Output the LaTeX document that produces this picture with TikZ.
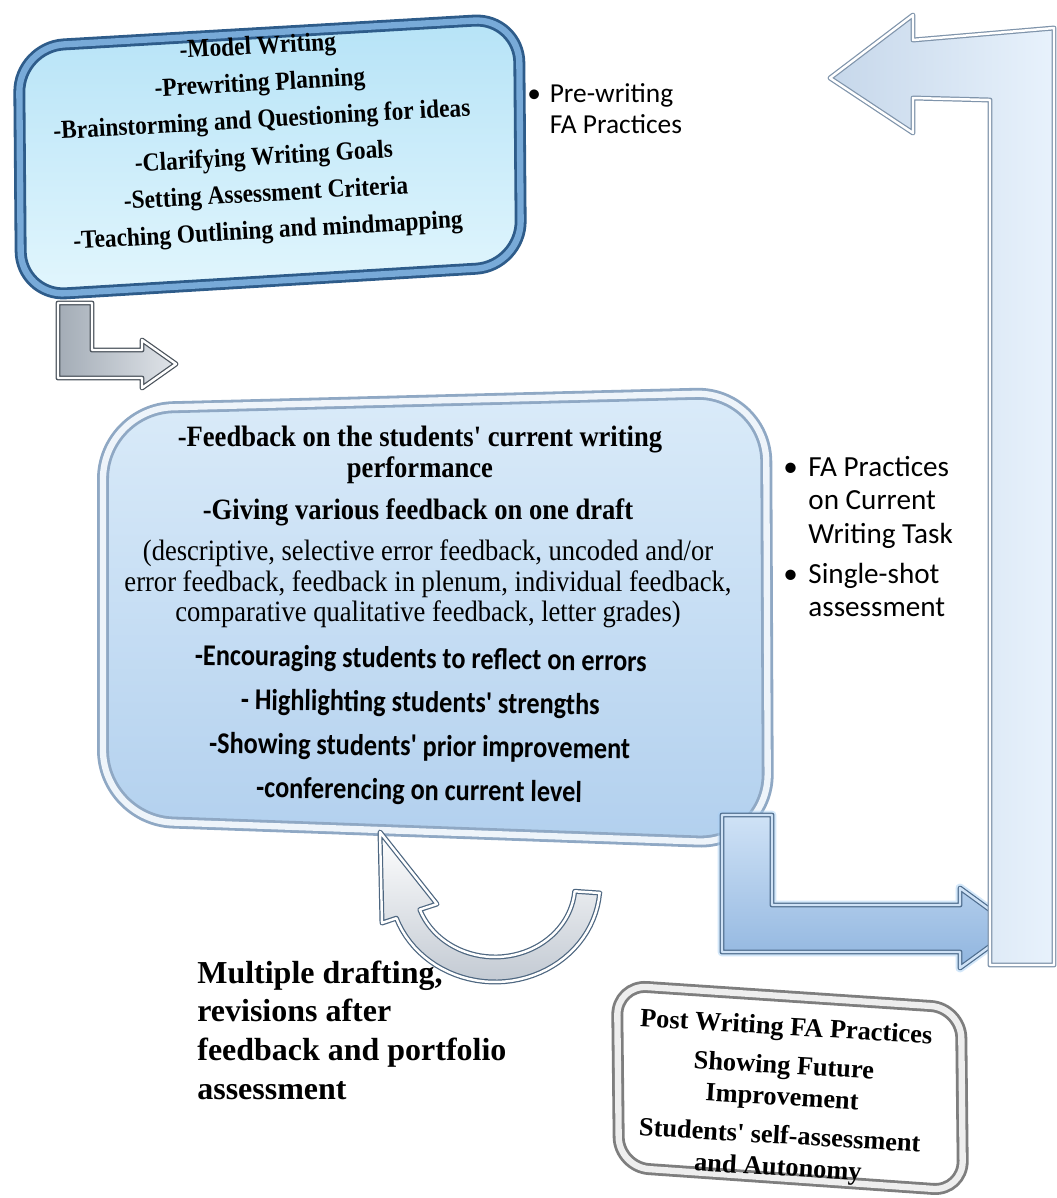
\documentclass[tikz,border=0pt]{standalone}
\usepackage{xcolor}
\usepackage{fontspec}
\newfontfamily\plainserif{Liberation Serif}
\newfontfamily\boxserif[FakeStretch=0.9]{Liberation Serif}
\newfontfamily\boxsans[FakeStretch=0.87]{Carlito}
\newfontfamily\notesans{Carlito}
\usepackage{tikz}

\definecolor{topframe}{HTML}{2E5C8A}
\definecolor{topbevel}{HTML}{78AAD8}
\definecolor{topfillA}{HTML}{B6E3F7}
\definecolor{topfillB}{HTML}{E2F6FD}
\definecolor{midframe}{HTML}{8FA8C4}
\definecolor{midbevel}{HTML}{EEF4FA}
\definecolor{midfillA}{HTML}{DAEBF9}
\definecolor{midfillB}{HTML}{B2D0EE}
\definecolor{postframe}{HTML}{7E7E7E}
\definecolor{postbevel}{HTML}{EEEEEE}
\definecolor{steelA}{HTML}{E0E4E9}
\definecolor{steelB}{HTML}{A3ACB6}
\definecolor{steeledge}{HTML}{4B535C}
\definecolor{blueA}{HTML}{CFE2F6}
\definecolor{blueB}{HTML}{90B5DF}
\definecolor{blueedge}{HTML}{4F6E8F}
\definecolor{glowblue}{HTML}{A9D0F5}
\definecolor{paleA}{HTML}{C6D7EA}
\definecolor{paleB}{HTML}{E8F2FC}
\definecolor{paleedge}{HTML}{7F94AB}
\definecolor{curveB}{HTML}{C3CAD3}
\definecolor{curveedge}{HTML}{4D6680}

\begin{document}
\begin{tikzpicture}[x=0.02cm, y=-0.02cm,
	boxframe/.style={line width=1.6pt, double distance=3.6pt, line join=round},
	blockarrow/.style={line width=0.7pt, double distance=1.4pt, line join=round},
	notetext/.style={anchor=west, inner sep=0pt}]
				\useasboundingbox (0,0) rectangle (1057,1198);
				\fill[white] (0,0) rectangle (1057,1198);

				\shadedraw[blockarrow, left color=steelB, right color=steelA, draw=steeledge, double=white] (58,303) -- (92,303) -- (92,350) -- (142,350) -- (142,340) -- (176,364) -- (142,388) -- (142,378) -- (58,378) -- cycle;

				\shadedraw[boxframe, rounded corners=0.9cm, top color=topfillA, bottom color=topfillB, draw=topframe, double=topbevel] (19,47) -- (519,18) -- (521,266) -- (21,296) -- cycle;
				\shadedraw[boxframe, rounded corners=1.4cm, top color=midfillA, bottom color=midfillB, draw=midframe, double=midbevel] (103,409) -- (766,392) -- (768,844) -- (103,820) -- cycle;
				\shadedraw[boxframe, rounded corners=0.6cm, top color=white, bottom color=white, draw=postframe, double=postbevel] (617,985) -- (961,1008) -- (963,1191) -- (619,1167) -- cycle;

				\shadedraw[blockarrow, top color=white, bottom color=curveB, draw=curveedge, double=white] (600,893) -- plot[domain=5:160, samples=40] ({495+105*cos(\x)},{885+97*sin(\x)}) -- (382,923) -- (380,832) -- (437,904) -- plot[domain=160:5, samples=40] ({495+80*cos(\x)},{885+72*sin(\x)}) -- cycle;
				\draw[glowblue, line width=5pt, line join=round, opacity=0.5] (722,815) -- (772,815) -- (772,905) -- (960,905) -- (960,888) -- (1015,928) -- (960,968) -- (960,952) -- (722,952) -- cycle;
				\shadedraw[blockarrow, top color=blueA, bottom color=blueB, draw=blueedge, double=blueA] (722,815) -- (772,815) -- (772,905) -- (960,905) -- (960,888) -- (1015,928) -- (960,968) -- (960,952) -- (722,952) -- cycle;
				\shadedraw[blockarrow, left color=paleA, right color=paleB, draw=paleedge, double=white] (1054,28) -- (1054,965) -- (990,965) -- (990,100) -- (913,98) -- (913,133) -- (830,78) -- (913,15) -- (913,40) -- cycle;

				\node[rotate=3.2, align=center, font=\fontsize{14.8}{21}\boxserif\bfseries] (pretext) at (263,140) {-Model Writing\\-Prewriting Planning\\-Brainstorming and Questioning for ideas\\-Clarifying Writing Goals\\-Setting Assessment Criteria\\-Teaching Outlining and mindmapping};
				\node[notetext, font=\fontsize{15.6}{17.6}\notesans] (prenote) at (527,112) {\begin{tabular}{@{}l@{\hspace{5pt}}l@{}}\textbullet & Pre-writing\\ & FA Practices\end{tabular}};

				\node[align=center, font=\fontsize{16.8}{17.6}\boxserif\bfseries] (fbhead) at (420,455) {-Feedback on the students' current writing\\performance};
				\node[align=center, font=\fontsize{16.8}{17.6}\boxserif\bfseries] (fbgive) at (418,512) {-Giving various feedback on one draft};
				\node[align=center, font=\fontsize{16.8}{17.4}\boxserif] (fbparen) at (428,584) {(descriptive, selective error feedback, uncoded and/or\\error feedback, feedback in plenum, individual feedback,\\comparative qualitative feedback, letter grades)};
				\node[rotate=-0.8, align=center, font=\fontsize{17.2}{25}\boxsans\bfseries] (fbsans) at (420,726) {-Encouraging students to reflect on errors\\- Highlighting students' strengths\\-Showing students' prior improvement\\-conferencing on current level};
				\node[notetext, font=\fontsize{16.6}{19}\notesans] (curnote) at (783,540) {\begin{tabular}{@{}l@{\hspace{6pt}}l@{}}\textbullet & FA Practices\\ & on Current\\ & Writing Task\\[4pt] \textbullet & Single-shot\\ & assessment\end{tabular}};

				\node[notetext, align=left, font=\fontsize{18.2}{22}\plainserif\bfseries] (draftnote) at (197,1030) {Multiple drafting,\\revisions after\\feedback and portfolio\\assessment};
				\node[rotate=-3.4, align=center, font=\fontsize{15}{18}\plainserif\bfseries] (posttext) at (782,1099) {Post Writing FA Practices\\[4pt]Showing Future\\Improvement\\[4pt]Students' self-assessment\\and Autonomy};
			\end{tikzpicture}
\end{document}
